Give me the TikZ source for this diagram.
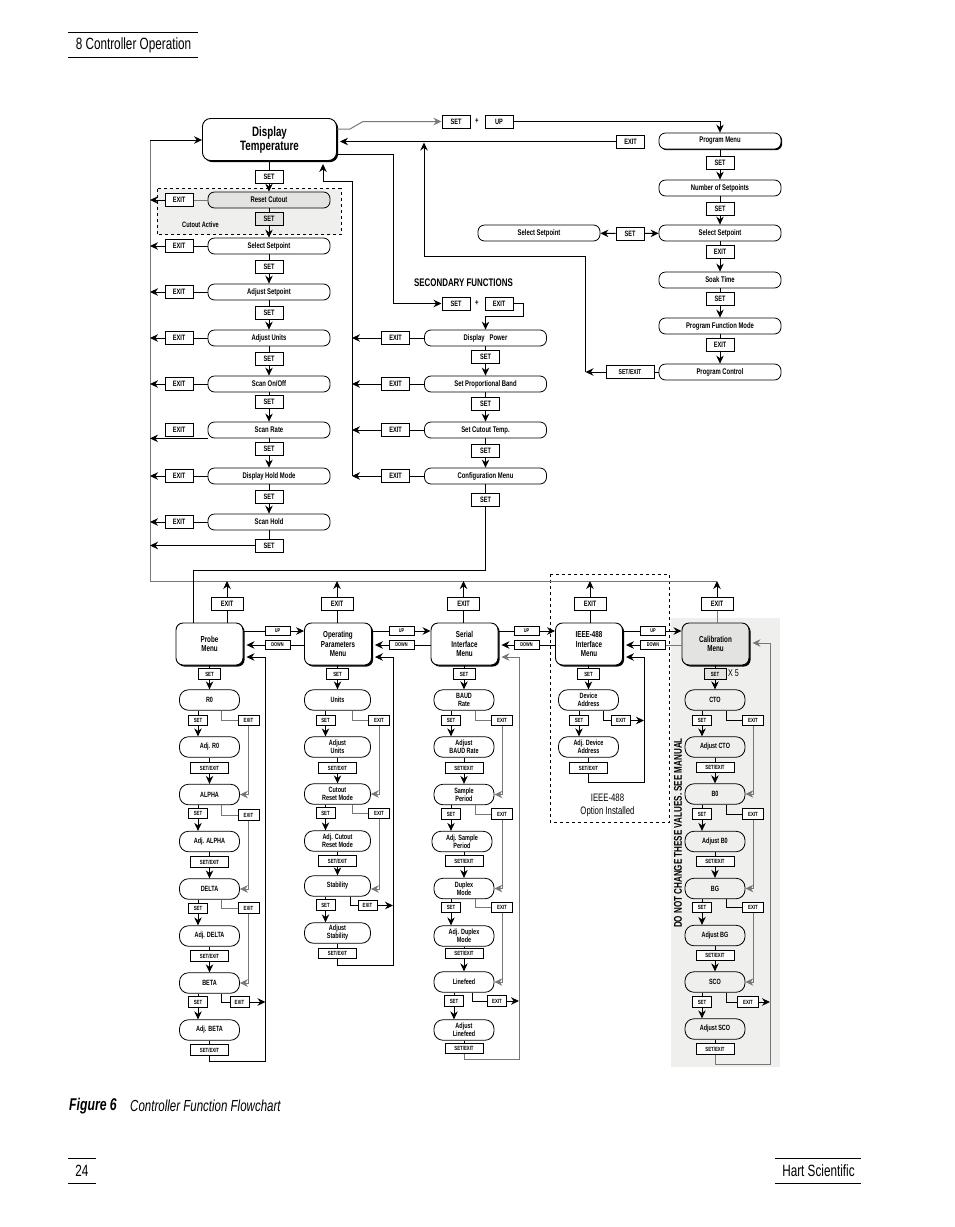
\documentclass[tikz,border=0pt]{standalone}
\usepackage{fontspec}
\setmainfont[FakeStretch=0.72]{Liberation Sans}
\usepackage{tikz}
\usetikzlibrary{arrows.meta,shadows}
\definecolor{panelgray}{HTML}{EFF0EE}
\definecolor{menugray}{HTML}{E3E4E2}
\definecolor{wiregray}{HTML}{777777}

\tikzset{
  wire/.style={draw=black, line width=1pt},
  flow/.style={wire, -{Stealth[length=8pt,width=7.5pt]}},
  graywire/.style={wire, draw=wiregray},
  grayflow/.style={flow, draw=wiregray},
  backflow/.style={flow, shorten >=3pt},
  keybox/.style={draw=black, fill=white, line width=1pt, inner sep=0pt, minimum width=28pt, minimum height=13pt, font=\fontsize{7.8}{8}\selectfont\bfseries},
  smallkey/.style={draw=black, fill=white, line width=1pt, inner sep=0pt, minimum width=19pt, minimum height=10.5pt, font=\fontsize{6}{6}\selectfont\bfseries},
  exitkey/.style={smallkey, minimum width=21pt},
  slashkey/.style={smallkey, minimum width=38pt},
  topkey/.style={smallkey, minimum width=22pt},
  arrowkey/.style={smallkey, minimum width=25pt, minimum height=9.5pt, font=\fontsize{5.4}{6}\selectfont\bfseries},
  bigkey/.style={keybox, minimum width=32pt},
  longpill/.style={draw=black, fill=white, line width=0.8pt, rounded corners=6.5pt, inner sep=0pt, minimum width=122pt, minimum height=16pt, font=\fontsize{8.2}{9}\selectfont\bfseries},
  subpill/.style={draw=black, fill=white, line width=0.8pt, rounded corners=9pt, inner sep=0pt, minimum width=60pt, minimum height=20.5pt, align=center, font=\fontsize{7.6}{8}\selectfont\bfseries},
  menubox/.style={draw=black, fill=white, line width=0.9pt, rounded corners=7pt, inner sep=0pt, minimum width=67pt, minimum height=42pt, align=center, font=\fontsize{8.7}{9.5}\selectfont\bfseries, general shadow={fill=black, shadow xshift=1.6pt, shadow yshift=-1.6pt}},
  plaintext/.style={inner sep=0pt},
}

\begin{document}
\begin{tikzpicture}[x=1pt,y=-1pt]
\useasboundingbox (0,0) rectangle (954,1227);

\draw [line width=1pt] (68,32.5) -- (198,32.5);
\draw [line width=1pt] (68,57.5) -- (198,57.5);
\node [plaintext, font=\fontsize{16.3}{17}\selectfont] (chapter) at (133.5,45) {8 Controller Operation};

\path [fill=panelgray] (157,188.5) rectangle (341,234.5);
\draw [line width=0.9pt, dashed] (157,188.5) rectangle (341,234.5);
\path [fill=panelgray] (671,618) rectangle (780,1067);
\draw [line width=0.8pt, dashed] (550,574) rectangle (669.5,822);

\node [menubox, minimum width=134pt, minimum height=42pt, rounded corners=8pt, font=\fontsize{13.6}{14}\selectfont\bfseries] (dt) at (269.5,139.5) {Display\\Temperature};

\node [keybox] (s1) at (269,176.5) {SET};
\node [longpill, fill=menugray] (rc) at (269,200) {Reset Cutout};
\node [keybox, fill=menugray] (s2) at (269,218.5) {SET};
\node [plaintext, font=\fontsize{7.8}{8}\selectfont\bfseries] (cutout) at (200.5,225) {Cutout Active};
\node [longpill] (ss) at (269,246) {Select Setpoint};
\node [keybox] (s3) at (269,266.5) {SET};
\node [longpill] (as) at (269,292) {Adjust Setpoint};
\node [keybox] (s4) at (269,313) {SET};
\node [longpill] (au) at (269,338) {Adjust Units};
\node [keybox] (s5) at (269,359) {SET};
\node [longpill] (so) at (269,384) {Scan On/Off};
\node [keybox] (s6) at (269,401.5) {SET};
\node [longpill] (sr) at (269,430) {Scan Rate};
\node [keybox] (s7) at (269,448.5) {SET};
\node [longpill] (dh) at (269,476) {Display Hold Mode};
\node [keybox] (s8) at (269,496.5) {SET};
\node [longpill] (sh) at (269,522) {Scan Hold};
\node [keybox] (s9) at (269,545.5) {SET};

\node [keybox] (e1) at (179,200) {EXIT};
\node [keybox] (e2) at (179,246) {EXIT};
\node [keybox] (e3) at (179,292) {EXIT};
\node [keybox] (e4) at (179,338) {EXIT};
\node [keybox] (e5) at (179,384) {EXIT};
\node [keybox] (e6) at (179,430) {EXIT};
\node [keybox] (e7) at (179,476) {EXIT};
\node [keybox] (e8) at (179,522) {EXIT};

\coordinate (lbus) at (150,140);
\coordinate (bot) at (150,581);
\coordinate (botend) at (717,581);
\draw [graywire] (botend) -- (bot) -- (lbus);
\draw [flow] (lbus) -- (lbus -| dt.west);

\draw [wire] (s1 |- dt.south) -- (s1);
\draw [flow] (s1) -- (rc);
\draw [wire] (rc) -- (s2);
\draw [flow] (s2) -- (ss);
\draw [wire] (ss) -- (s3);
\draw [flow] (s3) -- (as);
\draw [wire] (as) -- (s4);
\draw [flow] (s4) -- (au);
\draw [wire] (au) -- (s5);
\draw [flow] (s5) -- (so);
\draw [wire] (so) -- (s6);
\draw [flow] (s6) -- (sr);
\draw [wire] (sr) -- (s7);
\draw [flow] (s7) -- (dh);
\draw [wire] (dh) -- (s8);
\draw [flow] (s8) -- (sh);
\draw [wire] (sh) -- (s9);
\draw [flow] (s9) -- (s9 -| lbus);

\draw [graywire] (rc) -- (e1);
\draw [flow] (e1) -- (e1 -| lbus);
\draw [wire] (ss) -- (e2);
\draw [flow] (e2) -- (e2 -| lbus);
\draw [wire] (as) -- (e3);
\draw [flow] (e3) -- (e3 -| lbus);
\draw [wire] (au) -- (e4);
\draw [flow] (e4) -- (e4 -| lbus);
\draw [wire] (so) -- (e5);
\draw [flow] (e5) -- (e5 -| lbus);
\draw [flow] (sr.south west) -- (sr.south west -| lbus);
\draw [wire] (dh) -- (e7);
\draw [flow] (e7) -- (e7 -| lbus);
\draw [wire] (sh) -- (e8);
\draw [flow] (e8) -- (e8 -| lbus);

\node [plaintext, font=\fontsize{11}{11}\selectfont\bfseries] (sectitle) at (463.5,283) {SECONDARY FUNCTIONS};
\node [keybox] (ks) at (456,303.5) {SET};
\node [plaintext, font=\fontsize{8.5}{9}\selectfont\bfseries] (kplus) at (477,303.5) {+};
\node [keybox] (ke) at (499,303.5) {EXIT};

\node [longpill] (dp) at (485.5,338) {Display~~~Power};
\node [keybox] (t1) at (485.5,357) {SET};
\node [longpill] (pb) at (485.5,384) {Set Proportional Band};
\node [keybox] (t2) at (485.5,404) {SET};
\node [longpill] (ct) at (485.5,430) {Set Cutout Temp.};
\node [keybox] (t3) at (485.5,450.5) {SET};
\node [longpill] (cm) at (485.5,476) {Configuration Menu};
\node [keybox] (t4) at (485.5,499.5) {SET};

\node [keybox] (x1) at (395.5,338) {EXIT};
\node [keybox] (x2) at (395.5,384) {EXIT};
\node [keybox] (x3) at (395.5,430) {EXIT};
\node [keybox] (x4) at (395.5,476) {EXIT};

\coordinate (dtsec) at (337,154);
\coordinate (secbus) at (393,303.5);
\coordinate (secj) at (523.5,316.5);
\coordinate (rbus) at (352,181);
\coordinate (rbusend) at (352,476);
\coordinate (dtin) at (323,161);
\coordinate (cfgj) at (485.5,570);
\coordinate (prbj) at (193,570);

\draw [wire] (dtsec) -| (secbus);
\draw [flow] (secbus) -- (ks);
\draw [flow] (ke) -| (secj) -| (dp);
\draw [backflow] (rbusend) -- (rbus) -| (dtin);

\draw [wire] (dp) -- (t1);
\draw [flow] (t1) -- (pb);
\draw [wire] (pb) -- (t2);
\draw [flow] (t2) -- (ct);
\draw [wire] (ct) -- (t3);
\draw [flow] (t3) -- (cm);
\draw [wire] (cm) -- (t4);

\draw [wire] (dp) -- (x1);
\draw [flow] (x1) -- (x1 -| rbus);
\draw [wire] (pb) -- (x2);
\draw [flow] (x2) -- (x2 -| rbus);
\draw [wire] (ct) -- (x3);
\draw [flow] (x3) -- (x3 -| rbus);
\draw [wire] (cm) -- (x4);
\draw [flow] (x4) -- (x4 -| rbus);

\node [keybox] (us) at (456,121.5) {SET};
\node [plaintext, font=\fontsize{8.5}{9}\selectfont\bfseries] (uplus) at (477,121.5) {+};
\node [keybox] (uu) at (499,121.5) {UP};
\node [keybox] (pe) at (630.5,141.5) {EXIT};

\node [longpill, general shadow={fill=black, shadow xshift=1.2pt, shadow yshift=-1.2pt}] (pm) at (720,141) {Program Menu};
\node [keybox] (p1) at (720,163) {SET};
\node [longpill] (ns) at (720,188) {Number of Setpoints};
\node [keybox] (p2) at (720,209) {SET};
\node [longpill] (ps) at (720,233) {Select Setpoint};
\node [keybox] (p3) at (720,251.5) {EXIT};
\node [longpill] (st) at (720,280) {Soak Time};
\node [keybox] (p4) at (720,299) {SET};
\node [longpill] (pf) at (720,326) {Program Function Mode};
\node [keybox] (p5) at (720,344.5) {EXIT};
\node [longpill] (pc) at (720,372) {Program Control};

\node [longpill] (ls) at (539,233) {Select Setpoint};
\node [keybox] (lk) at (630,233.5) {SET};
\node [keybox, minimum width=48pt, font=\fontsize{7.1}{8}\selectfont\bfseries] (px) at (630,372) {SET/EXIT};

\coordinate (dtup) at (337,129);
\coordinate (dtupa) at (350,129);
\coordinate (dtupb) at (363,121.5);
\coordinate (pbus) at (585.5,372);
\coordinate (pbusa) at (585.5,256);
\coordinate (pbusb) at (424,142.5);

\draw [grayflow] (dtup) -- (dtupa) -- (dtupb) -- (us);
\draw [flow] (uu) -| (pm);
\draw [backflow] (pe) -- (pe -| dt.east);
\draw [flow] (pbus) -- (pbusa) -| (pbusb);
\draw [flow] (px) -- (pbus);
\draw [wire] (pc) -- (px);

\draw [wire] (pm) -- (p1);
\draw [flow] (p1) -- (ns);
\draw [wire] (ns) -- (p2);
\draw [flow] (p2) -- (ps);
\draw [wire] (ps) -- (p3);
\draw [flow] (p3) -- (st);
\draw [wire] (st) -- (p4);
\draw [flow] (p4) -- (pf);
\draw [wire] (pf) -- (p5);
\draw [flow] (p5) -- (pc);
\draw [flow] (lk) -- (ls);
\draw [flow] (lk) -- (ps);

\node [menubox] (m1) at (209.5,644) {Probe\\Menu};
\node [menubox] (m2) at (338,644) {Operating\\Parameters\\Menu};
\node [menubox] (m3) at (464.5,644) {Serial\\Interface\\Menu};
\node [menubox] (m4) at (589,644) {IEEE-488\\Interface\\Menu};
\node [menubox, fill=menugray] (m5) at (715.5,644) {Calibration\\Menu};

\node [bigkey] (mx1) at (227,603.5) {EXIT};
\node [bigkey] (mx2) at (337,603.5) {EXIT};
\node [bigkey] (mx3) at (463.5,603.5) {EXIT};
\node [bigkey] (mx4) at (590,603.5) {EXIT};
\node [bigkey] (mx5) at (717,603.5) {EXIT};

\node [arrowkey] (u1) at (277.5,631) {UP};
\node [arrowkey] (d1) at (277.5,645) {DOWN};
\node [arrowkey] (u2) at (401.5,631) {UP};
\node [arrowkey] (d2) at (401.5,645) {DOWN};
\node [arrowkey] (u3) at (526.5,631) {UP};
\node [arrowkey] (d3) at (526.5,645) {DOWN};
\node [arrowkey] (u4) at (653,631) {UP};
\node [arrowkey] (d4) at (653,645) {DOWN};

\draw [wire] (prbj) -- (prbj |- m1.north);
\draw [wire] (t4) -- (cfgj) -- (prbj);
\draw [wire] (mx1 |- m1.north) -- (mx1);
\draw [flow] (mx1) -- (mx1 |- bot);
\draw [wire] (mx2 |- m2.north) -- (mx2);
\draw [flow] (mx2) -- (mx2 |- bot);
\draw [wire] (mx3 |- m3.north) -- (mx3);
\draw [flow] (mx3) -- (mx3 |- bot);
\draw [wire] (mx4 |- m4.north) -- (mx4);
\draw [flow] (mx4) -- (mx4 |- bot);
\draw [graywire] (mx5 |- m5.north) -- (mx5);
\draw [flow] (mx5) -- (mx5 |- bot);

\draw [wire] (m1.east |- u1) -- (u1);
\draw [flow] (u1) -- (u1 -| m2.west);
\draw [wire] (d1 -| m2.west) -- (d1);
\draw [backflow] (d1) -- (d1 -| m1.east);
\draw [wire] (m2.east |- u2) -- (u2);
\draw [flow] (u2) -- (u2 -| m3.west);
\draw [wire] (d2 -| m3.west) -- (d2);
\draw [backflow] (d2) -- (d2 -| m2.east);
\draw [wire] (m3.east |- u3) -- (u3);
\draw [flow] (u3) -- (u3 -| m4.west);
\draw [wire] (d3 -| m4.west) -- (d3);
\draw [backflow] (d3) -- (d3 -| m3.east);
\draw [wire] (m4.east |- u4) -- (u4);
\draw [flow] (u4) -- (u4 -| m5.west);
\draw [graywire] (d4 -| m5.west) -- (d4);
\draw [backflow] (d4) -- (d4 -| m4.east);

\node [topkey] (a0) at (209.5,674) {SET};
\node [subpill] (r0) at (209.5,700) {R0};
\node [smallkey] (a1) at (198,720.5) {SET};
\node [exitkey] (ax1) at (248.5,720.5) {EXIT};
\node [subpill] (ar) at (209.5,747) {Adj. R0};
\node [slashkey] (ay1) at (209.5,768) {SET/EXIT};
\node [subpill] (al) at (209.5,794.5) {ALPHA};
\node [smallkey] (a2) at (198,813.5) {SET};
\node [exitkey] (ax2) at (248.5,815) {EXIT};
\node [subpill] (aa) at (209.5,841.5) {Adj. ALPHA};
\node [slashkey] (ay2) at (209.5,862) {SET/EXIT};
\node [subpill] (de) at (209.5,889) {DELTA};
\node [smallkey] (a3) at (198,908.5) {SET};
\node [exitkey] (ax3) at (248.5,908) {EXIT};
\node [subpill] (ad) at (209.5,936) {Adj. DELTA};
\node [slashkey] (ay3) at (209.5,956) {SET/EXIT};
\node [subpill] (be) at (209.5,983) {BETA};
\node [smallkey] (a4) at (198,1002) {SET};
\node [smallkey] (ax4) at (239.5,1002) {EXIT};
\node [subpill] (ab) at (209.5,1030) {Adj. BETA};
\node [slashkey] (ay4) at (209.5,1050) {SET/EXIT};

\coordinate (aretb) at (265.5,1061);
\coordinate (aret) at (265.5,657);

\draw [wire] (m1) -- (a0);
\draw [flow] (a0) -- (r0);
\draw [wire] (r0.south -| a1) -- (a1);
\draw [flow] (a1) -- (a1 |- ar.north);
\draw [graywire] (r0.-41) |- (ax1);
\draw [grayflow] (ax1) |- (al);
\draw [wire] (ar) -- (ay1);
\draw [flow] (ay1) -- (al);
\draw [wire] (al.south -| a2) -- (a2);
\draw [flow] (a2) -- (a2 |- aa.north);
\draw [graywire] (al.-41) |- (ax2);
\draw [grayflow] (ax2) |- (de);
\draw [wire] (aa) -- (ay2);
\draw [flow] (ay2) -- (de);
\draw [wire] (de.south -| a3) -- (a3);
\draw [flow] (a3) -- (a3 |- ad.north);
\draw [graywire] (de.-41) |- (ax3);
\draw [grayflow] (ax3) |- (be);
\draw [wire] (ad) -- (ay3);
\draw [flow] (ay3) -- (be);
\draw [wire] (be.south -| a4) -- (a4);
\draw [flow] (a4) -- (a4 |- ab.north);
\draw [wire] (be.-41) |- (ax4);
\draw [flow] (ax4) -- (ax4 -| aret);
\draw [wire] (ab) -- (ay4);
\draw [wire] (ay4) |- (aretb) -- (aret);
\draw [backflow] (aret) -- (aret -| m1.east);

\node [topkey] (b0) at (337.5,674) {SET};
\node [subpill, minimum width=66pt] (un) at (337.5,700) {Units};
\node [smallkey] (b1) at (325.5,720.5) {SET};
\node [exitkey] (bx1) at (379,720.5) {EXIT};
\node [subpill, minimum width=66pt] (uj) at (337.5,747) {Adjust\\Units};
\node [slashkey] (by1) at (337.5,768) {SET/EXIT};
\node [subpill, minimum width=66pt] (cr) at (337.5,794) {Cutout\\Reset Mode};
\node [smallkey] (b2) at (325.5,813) {SET};
\node [exitkey] (bx2) at (379,813.5) {EXIT};
\node [subpill, minimum width=66pt] (ac) at (337.5,841) {Adj. Cutout\\Reset Mode};
\node [slashkey] (by2) at (337.5,861) {SET/EXIT};
\node [subpill, minimum width=66pt] (sb) at (337.5,886) {Stability};
\node [smallkey] (b3) at (325.5,905) {SET};
\node [smallkey] (bx3) at (367.5,905.5) {EXIT};
\node [subpill, minimum width=66pt] (aj) at (337.5,933) {Adjust\\Stability};
\node [slashkey] (by3) at (337.5,953.5) {SET/EXIT};

\coordinate (bretb) at (393,965);
\coordinate (bret) at (393,657);

\draw [wire] (b0 |- m2.south) -- (b0);
\draw [flow] (b0) -- (un);
\draw [wire] (un.south -| b1) -- (b1);
\draw [flow] (b1) -- (b1 |- uj.north);
\draw [graywire] (un.-35) |- (bx1);
\draw [grayflow] (bx1) |- (cr);
\draw [wire] (uj) -- (by1);
\draw [flow] (by1) -- (cr);
\draw [wire] (cr.south -| b2) -- (b2);
\draw [flow] (b2) -- (b2 |- ac.north);
\draw [graywire] (cr.-35) |- (bx2);
\draw [grayflow] (bx2) |- ([yshift=-3pt]sb.east);
\draw [wire] (ac) -- (by2);
\draw [flow] (by2) -- (sb);
\draw [wire] (sb.south -| b3) -- (b3);
\draw [flow] (b3) -- (b3 |- aj.north);
\draw [wire] (sb.-40) |- (bx3);
\draw [flow] (bx3) -- (bx3 -| bret);
\draw [wire] (aj) -- (by3);
\draw [wire] (by3) |- (bretb) -- (bret);
\draw [backflow] (bret) -- (bret -| m2.east);

\node [topkey] (c0) at (464,674) {SET};
\node [subpill] (br) at (464,700) {BAUD\\Rate};
\node [smallkey] (c1) at (451,720.5) {SET};
\node [exitkey] (cx1) at (502,720.5) {EXIT};
\node [subpill] (ab2) at (464,747) {Adjust\\BAUD Rate};
\node [slashkey] (cy1) at (464,768) {SET/EXIT};
\node [subpill] (sp) at (464,794.5) {Sample\\Period};
\node [smallkey] (c2) at (451,814) {SET};
\node [exitkey] (cx2) at (502,814) {EXIT};
\node [subpill] (as2) at (462,841.5) {Adj. Sample\\Period};
\node [slashkey] (cy2) at (464,861) {SET/EXIT};
\node [subpill] (dm) at (464,888.5) {Duplex\\Mode};
\node [smallkey] (c3) at (451,907.5) {SET};
\node [exitkey] (cx3) at (502,907.5) {EXIT};
\node [subpill] (ad2) at (464,936) {Adj. Duplex\\Mode};
\node [slashkey] (cy3) at (464,953.5) {SET/EXIT};
\node [subpill] (lf) at (464,982) {Linefeed};
\node [smallkey] (c4) at (454,1001) {SET};
\node [smallkey] (cx4) at (497,1001) {EXIT};
\node [subpill] (al2) at (464,1030) {Adjust\\Linefeed};
\node [slashkey] (cy4) at (464,1048.5) {SET/EXIT};

\coordinate (cretb) at (519,1059);
\coordinate (cret) at (519,657);

\draw [wire] (c0 |- m3.south) -- (c0);
\draw [flow] (c0) -- (br);
\draw [wire] (br.south -| c1) -- (c1);
\draw [flow] (c1) -- (c1 |- ab2.north);
\draw [graywire] (br.-44) |- (cx1);
\draw [grayflow] (cx1) |- (sp);
\draw [wire] (ab2) -- (cy1);
\draw [flow] (cy1) -- (sp);
\draw [wire] (sp.south -| c2) -- (c2);
\draw [flow] (c2) -- (c2 |- as2.north);
\draw [graywire] (sp.-44) |- (cx2);
\draw [grayflow] (cx2) |- (dm);
\draw [wire] (as2.south -| cy2) -- (cy2);
\draw [flow] (cy2) -- (dm);
\draw [wire] (dm.south -| c3) -- (c3);
\draw [flow] (c3) -- (c3 |- ad2.north);
\draw [graywire] (dm.-44) |- (cx3);
\draw [grayflow] (cx3) |- (lf);
\draw [wire] (ad2) -- (cy3);
\draw [flow] (cy3) -- (lf);
\draw [wire] (lf.south -| c4) -- (c4);
\draw [flow] (c4) -- (c4 |- al2.north);
\draw [wire] (lf.-50) |- (cx4);
\draw [flow] (cx4) -- (cx4 -| cret);
\draw [wire] (al2) -- (cy4);
\draw [graywire] (cy4) |- (cretb) -- (cret);
\draw [backflow, draw=wiregray] (cret) -- (cret -| m3.east);

\node [topkey] (g0) at (588.5,674) {SET};
\node [subpill] (da) at (588.5,700) {Device\\Address};
\node [smallkey] (g1) at (579,720.5) {SET};
\node [smallkey] (gx1) at (621,720.5) {EXIT};
\node [subpill] (ag) at (588.5,747) {Adj. Device\\Address};
\node [slashkey] (gy1) at (588.5,768) {SET/EXIT};
\node [plaintext, font=\fontsize{10.8}{11}\selectfont] (ieee) at (607.5,798) {IEEE-488};
\node [plaintext, font=\fontsize{10.8}{11}\selectfont] (option) at (607.5,812) {Option Installed};

\coordinate (gretb) at (644,782);
\coordinate (gret) at (644,657);

\draw [wire] (g0 |- m4.south) -- (g0);
\draw [flow] (g0) -- (da);
\draw [wire] (da.south -| g1) -- (g1);
\draw [flow] (g1) -- (g1 |- ag.north);
\draw [wire] (da.-35) |- (gx1);
\draw [flow] (gx1) -- (gx1 -| gret);
\draw [wire] (ag) -- (gy1);
\draw [wire] (gy1) |- (gretb) -- (gret);
\draw [backflow] (gret) -- (gret -| m4.east);

\node [topkey, fill=menugray] (h0) at (715,674) {SET};
\node [plaintext, font=\fontsize{9.8}{10}\selectfont] (timesfive) at (733.5,673) {X 5};
\node [subpill, fill=panelgray] (cto) at (715,700) {CTO};
\node [smallkey] (h1) at (702,720.5) {SET};
\node [exitkey] (hx1) at (753,720.5) {EXIT};
\node [subpill, fill=panelgray] (ato) at (715,747) {Adjust CTO};
\node [slashkey] (hy1) at (715,767.5) {SET/EXIT};
\node [subpill, fill=panelgray] (bo) at (715,794) {B0};
\node [smallkey] (h2) at (702,814) {SET};
\node [exitkey] (hx2) at (753,814) {EXIT};
\node [subpill, fill=panelgray] (abo) at (715,841.5) {Adjust B0};
\node [slashkey] (hy2) at (715,861.5) {SET/EXIT};
\node [subpill, fill=panelgray] (bg) at (715,888.5) {BG};
\node [smallkey] (h3) at (702,907.5) {SET};
\node [exitkey] (hx3) at (753,907.5) {EXIT};
\node [subpill, fill=panelgray] (abg) at (715,935.5) {Adjust BG};
\node [slashkey] (hy3) at (715,955.5) {SET/EXIT};
\node [subpill, fill=panelgray] (sco) at (715,982) {SCO};
\node [smallkey] (h4) at (702,1002) {SET};
\node [exitkey] (hx4) at (748,1002) {EXIT};
\node [subpill, fill=panelgray] (asc) at (715,1029) {Adjust SCO};
\node [slashkey] (hy4) at (715,1049) {SET/EXIT};
\node [plaintext, rotate=90, font=\fontsize{11.2}{11}\selectfont\bfseries] (warning) at (678,833) {DO NOT CHANGE THESE VALUES. SEE MANUAL};

\coordinate (hretb) at (770,1064);
\coordinate (hret) at (770,643);

\draw [wire] (h0 |- m5.south) -- (h0);
\draw [flow] (h0) -- (cto);
\draw [wire] (cto.south -| h1) -- (h1);
\draw [flow] (h1) -- (h1 |- ato.north);
\draw [wire] (cto.-44) |- (hx1);
\draw [grayflow] (hx1) |- (bo);
\draw [wire] (ato) -- (hy1);
\draw [flow] (hy1) -- (bo);
\draw [wire] (bo.south -| h2) -- (h2);
\draw [flow] (h2) -- (h2 |- abo.north);
\draw [wire] (bo.-44) |- (hx2);
\draw [grayflow] (hx2) |- (bg);
\draw [wire] (abo) -- (hy2);
\draw [flow] (hy2) -- (bg);
\draw [wire] (bg.south -| h3) -- (h3);
\draw [flow] (h3) -- (h3 |- abg.north);
\draw [wire] (bg.-44) |- (hx3);
\draw [grayflow] (hx3) |- (sco);
\draw [wire] (abg) -- (hy3);
\draw [flow] (hy3) -- (sco);
\draw [wire] (sco.south -| h4) -- (h4);
\draw [flow] (h4) -- (h4 |- asc.north);
\draw [wire] (sco.-44) |- (hx4);
\draw [flow] (hx4) -- (hx4 -| hret);
\draw [wire] (asc) -- (hy4);
\draw [graywire] (hy4) |- (hretb) -- (hret);
\draw [backflow, draw=wiregray] (hret) -- (hret -| m5.east);

\node [plaintext, anchor=west, font=\fontsize{17}{17}\selectfont\bfseries\itshape] (figno) at (69,1106) {Figure 6};
\node [plaintext, anchor=west, font=\fontsize{16}{17}\selectfont\itshape] (figtitle) at (130,1106) {Controller Function Flowchart};

\draw [line width=1pt] (68,1158) -- (96,1158);
\draw [line width=1pt] (68,1183.5) -- (96,1183.5);
\node [plaintext, font=\fontsize{16.3}{17}\selectfont] (pageno) at (82,1171) {24};
\draw [line width=1pt] (775,1158.5) -- (861,1158.5);
\draw [line width=1pt] (775,1183.5) -- (861,1183.5);
\node [plaintext, font=\fontsize{16.3}{17}\selectfont] (maker) at (818.5,1171) {Hart Scientific};
\end{tikzpicture}
\end{document}
